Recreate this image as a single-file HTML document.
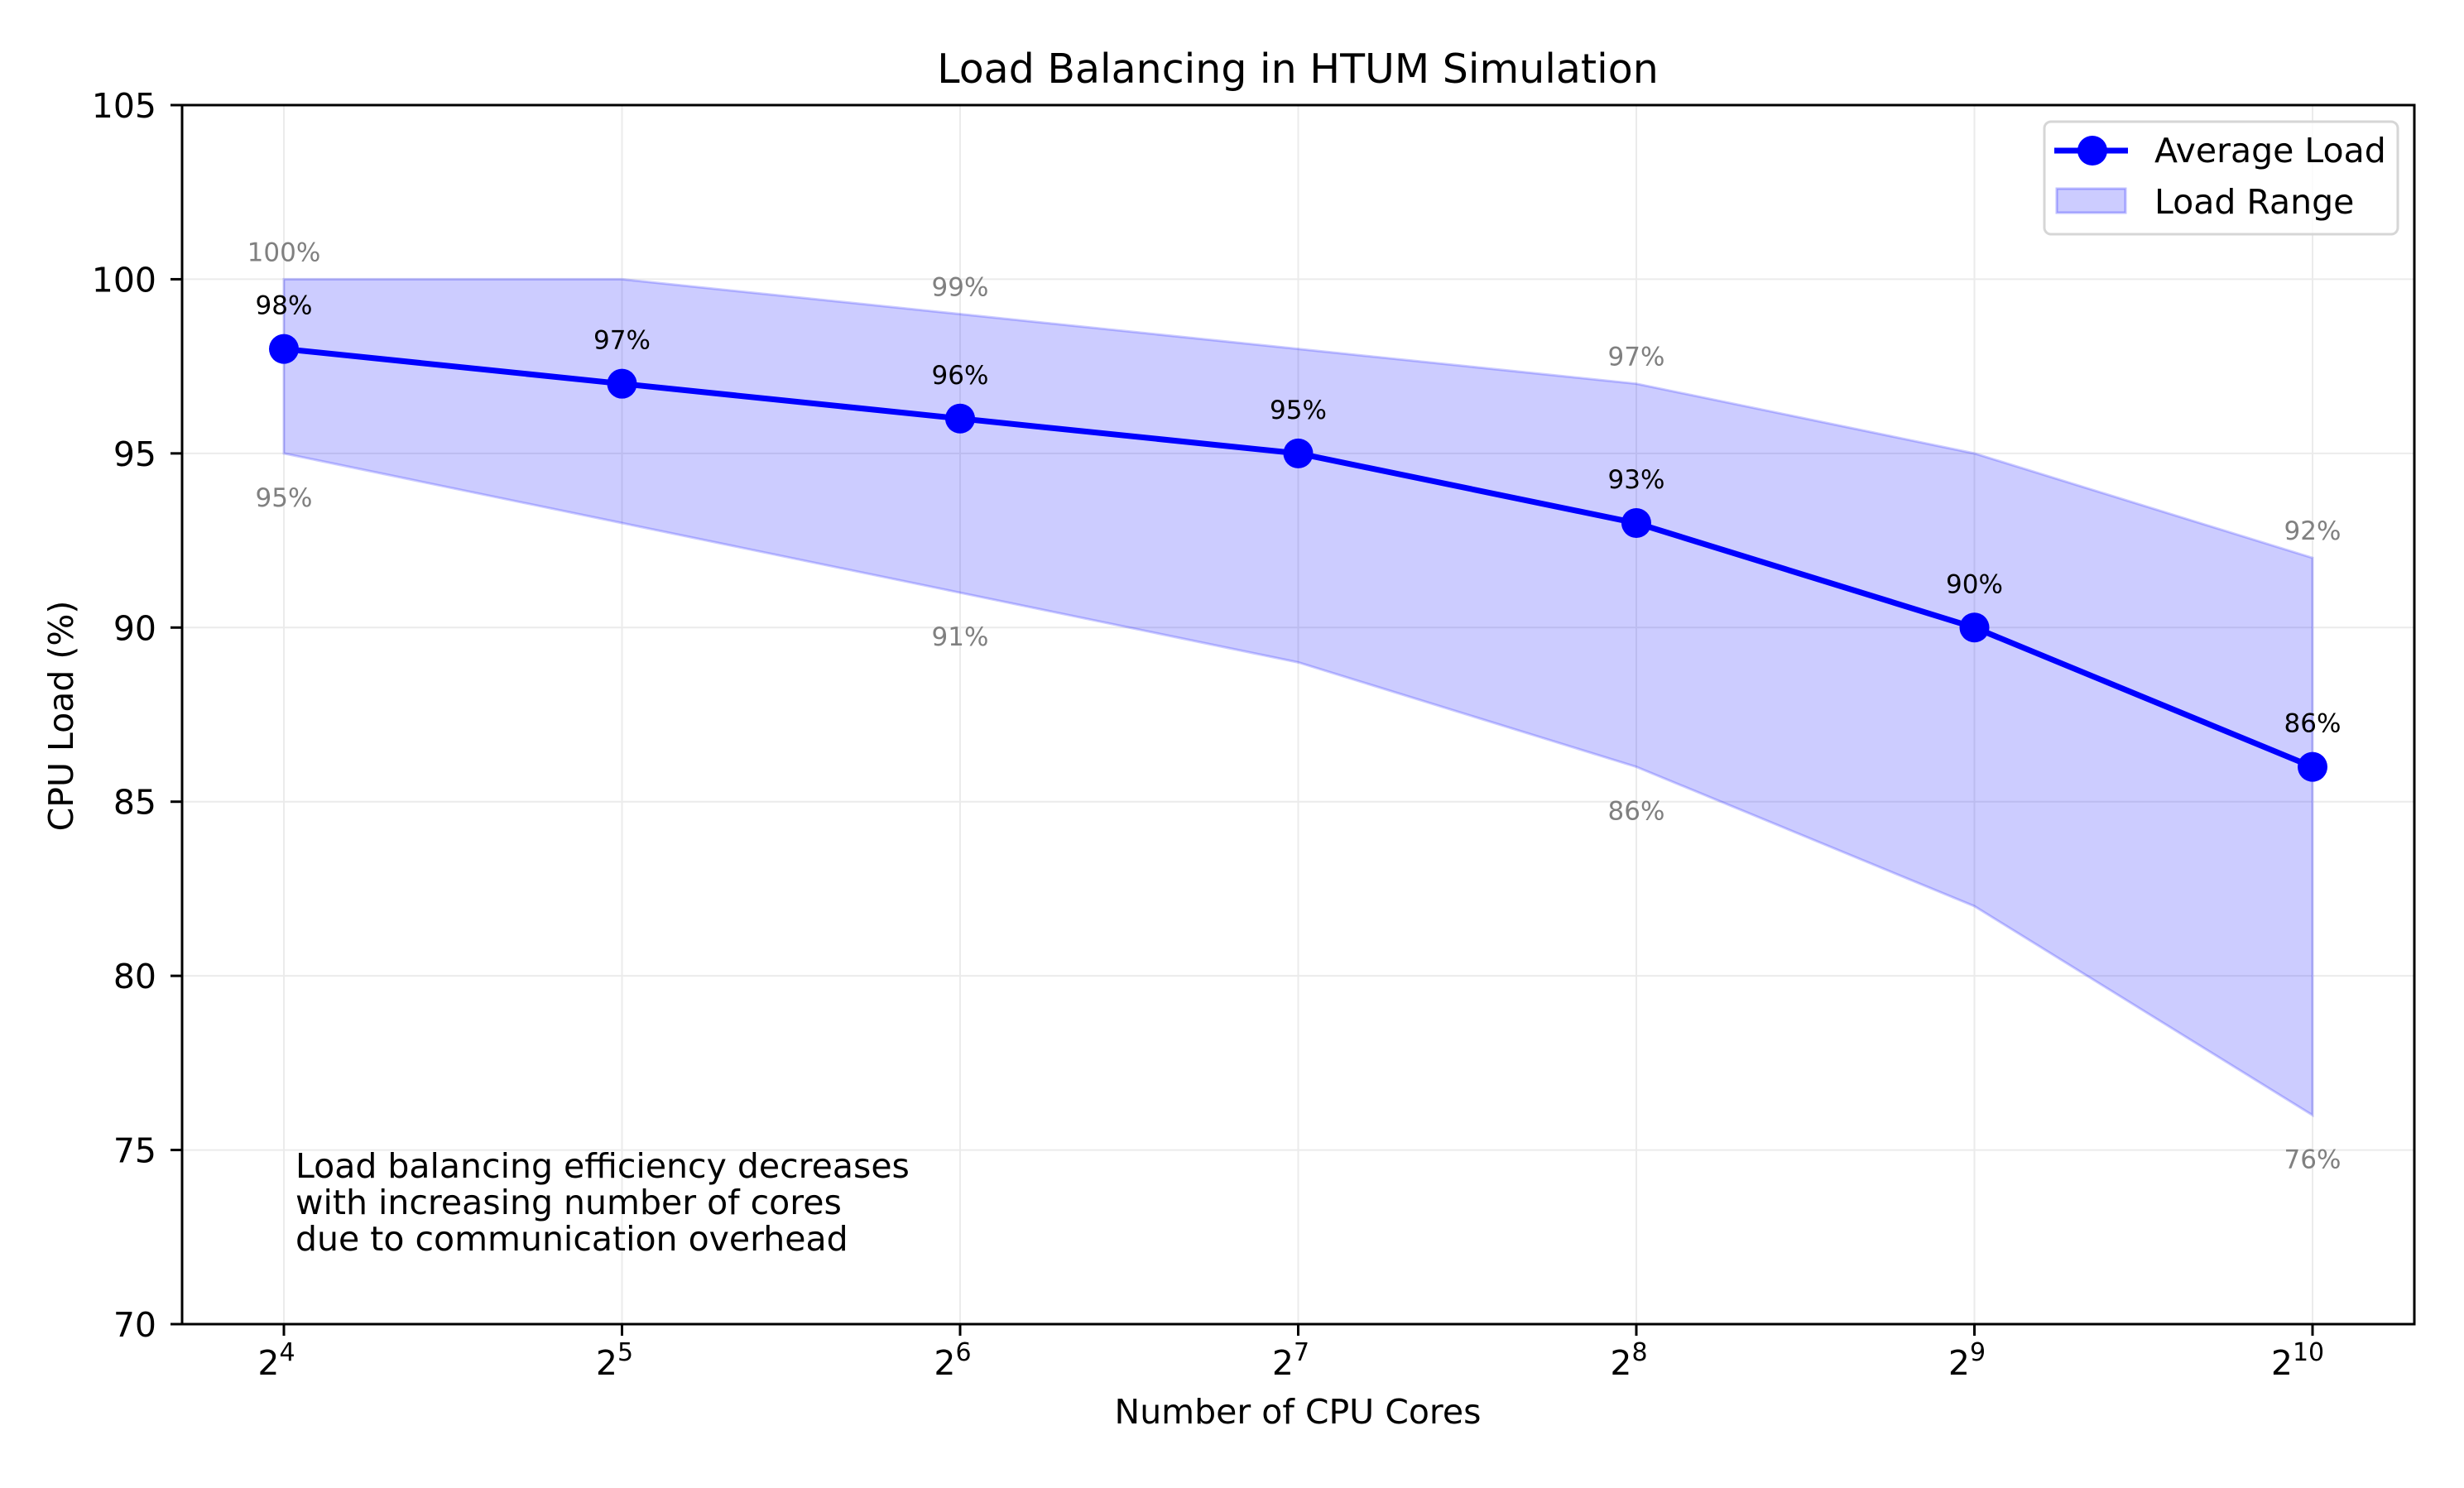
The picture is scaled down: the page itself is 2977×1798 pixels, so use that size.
<!DOCTYPE html>
<html><head><meta charset="utf-8"><style>
html,body{margin:0;padding:0;background:#fff;}
svg{display:block;font-family:"DejaVu Sans","Liberation Sans",sans-serif;}
</style></head><body>
<svg id="chart" width="2977" height="1798" viewBox="0 0 2977 1798" xmlns="http://www.w3.org/2000/svg">
<rect width="2977" height="1798" fill="#fff"/>
<g id="grid"></g>
<g id="band"></g>
<g id="line"></g>
<g id="labels"></g>
<rect x="220" y="127" width="2697" height="1473" fill="none" stroke="#000" stroke-width="3"/>
<g id="axes"></g>
<text x="1568" y="100" font-size="49" text-anchor="middle">Load Balancing in HTUM Simulation</text>
<text x="1568" y="1720" font-size="41" text-anchor="middle">Number of CPU Cores</text>
<text x="0" y="0" font-size="41" text-anchor="middle" transform="translate(88,865) rotate(-90)">CPU Load (%)</text>
<text font-size="41"><tspan x="357" y="1423">Load balancing efficiency decreases</tspan><tspan x="357" y="1467">with increasing number of cores</tspan><tspan x="357" y="1511">due to communication overhead</tspan></text>
<g>
<rect x="2470" y="147" width="427" height="136" rx="8" fill="#fff" fill-opacity="0.8" stroke="#d6d6d6" stroke-width="3"/>
<line x1="2482" y1="182" x2="2571" y2="182" stroke="#0000ff" stroke-width="7"/>
<circle cx="2528" cy="182" r="18" fill="#0000ff"/>
<rect x="2485" y="228" width="83" height="29" fill="#0000ff" fill-opacity="0.2" stroke="#0000ff" stroke-opacity="0.25" stroke-width="3"/>
<text x="2603" y="196" font-size="41">Average Load</text>
<text x="2603" y="258" font-size="41">Load Range</text>
</g>
</svg>
<script>
const exponents = [4,5,6,7,8,9,10];
const avgLoad = [98,97,96,95,93,90,86];
const upperLoad = [100,100,99,98,97,95,92];
const lowerLoad = [95,93,91,89,86,82,76];
const yTicks = [70,75,80,85,90,95,100,105];

const NS = "http://www.w3.org/2000/svg";
const X0 = 343, X1 = 2794, Y_TOP = 127, Y_BOT = 1600;
function xs(e){ return X0 + (e - exponents[0]) / (exponents[exponents.length-1] - exponents[0]) * (X1 - X0); }
function ys(v){ return Y_BOT - (v - 70) / (105 - 70) * (Y_BOT - Y_TOP); }
function mk(tag, attrs, parent){ const el = document.createElementNS(NS, tag); for (const k in attrs) el.setAttribute(k, attrs[k]); parent.appendChild(el); return el; }

const grid = document.getElementById('grid');
const axes = document.getElementById('axes');
yTicks.forEach(t => {
  const y = ys(t);
  const g = mk('line', {x1:220, x2:2917, y1:y, y2:y, stroke:'#ebebeb', 'stroke-width':2}, grid);
  
  
  const tk = mk('line', {x1:206, x2:220, y1:y, y2:y, stroke:'#000', 'stroke-width':3}, axes);
  
  
  const tl = mk('text', {x:189, y:y+15, 'font-size':41, 'text-anchor':'end'}, axes);
  tl.textContent = t;
  
  
});
exponents.forEach(e => {
  const x = xs(e);
  const g = mk('line', {x1:x, x2:x, y1:127, y2:1600, stroke:'#ebebeb', 'stroke-width':2}, grid);
  
  
  const tk = mk('line', {x1:x, x2:x, y1:1600, y2:1614, stroke:'#000', 'stroke-width':3}, axes);
  
  
  const tl = mk('text', {x:x, y:1661, 'font-size':41, 'text-anchor':'middle'}, axes);
  
  
  const b = document.createElementNS(NS,'tspan'); b.textContent = '2'; tl.appendChild(b);
  const s = document.createElementNS(NS,'tspan'); s.setAttribute('dy','-17'); s.setAttribute('font-size','30'); s.textContent = e; tl.appendChild(s);
  tl.setAttribute('dx', -(String(e).length*9));
});

const band = document.getElementById('band');
let pts = exponents.map((e,i)=>xs(e)+','+ys(upperLoad[i]));
for (let i = exponents.length-1; i >= 0; i--) pts.push(xs(exponents[i])+','+ys(lowerLoad[i]));
const poly = mk('polygon', {points:pts.join(' '), fill:'#0000ff', 'fill-opacity':0.2, stroke:'#0000ff', 'stroke-opacity':0.2, 'stroke-width':3}, band);



const line = document.getElementById('line');
const pl = mk('polyline', {points:exponents.map((e,i)=>xs(e)+','+ys(avgLoad[i])).join(' '), fill:'none', stroke:'#0000ff', 'stroke-width':7, 'stroke-linejoin':'round'}, line);


exponents.forEach((e,i) => {
  const c = mk('circle', {cx:xs(e), cy:ys(avgLoad[i]), r:18, fill:'#0000ff'}, line);
  
  
});

const labels = document.getElementById('labels');
exponents.forEach((e,i) => {
  const x = xs(e);
  const t = mk('text', {x:x, y:ys(avgLoad[i])-42, 'font-size':31, 'text-anchor':'middle', fill:'#000'}, labels);
  t.textContent = avgLoad[i] + '%';
  
  
  if (i % 2 === 0) {
    const u = mk('text', {x:x, y:ys(upperLoad[i])-22, 'font-size':31, 'text-anchor':'middle', fill:'#808080'}, labels);
    u.textContent = upperLoad[i] + '%';
    
    
    const l = mk('text', {x:x, y:ys(lowerLoad[i])+64, 'font-size':31, 'text-anchor':'middle', fill:'#808080'}, labels);
    l.textContent = lowerLoad[i] + '%';
    
    
  }
});
</script>
</body></html>
